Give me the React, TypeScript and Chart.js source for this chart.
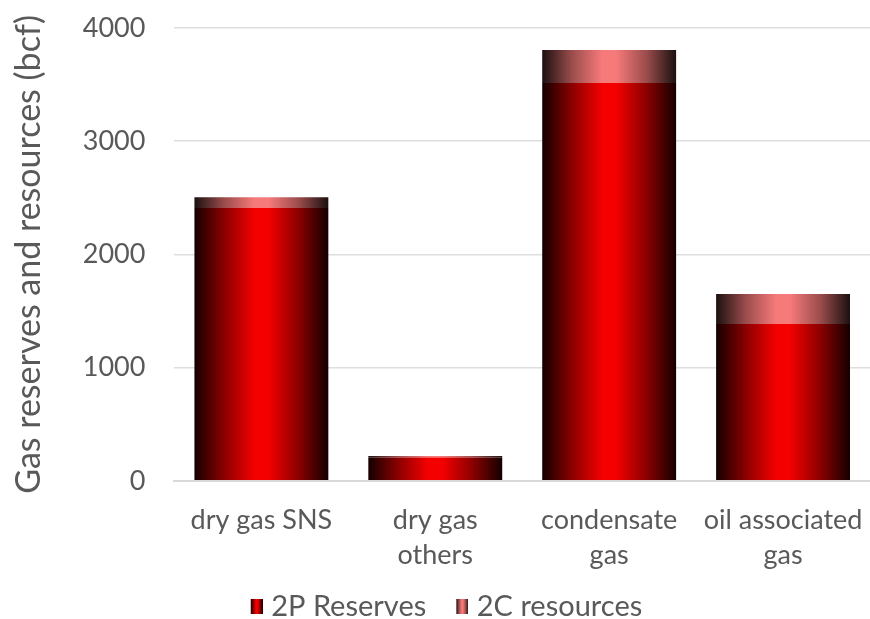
import React, { useEffect, useRef } from "react";
import { Chart, registerables } from "chart.js";

Chart.register(...registerables);

const categories: string[][] = [
  ["dry gas SNS"],
  ["dry gas", "others"],
  ["condensate", "gas"],
  ["oil associated", "gas"],
];
const reserves2P: number[] = [2410, 205, 3515, 1385];
const resources2C: number[] = [95, 15, 290, 265];
const seriesNames: string[] = ["2P Reserves", "2C resources"];
const yTickValues: number[] = [0, 1000, 2000, 3000, 4000];

const FONT = "Lato, 'Open Sans', sans-serif";
const TEXT = "#595959";
const CAT_PCT = 0.77;
const LEG_BOX = 17;

const STOPS_2P: [number, string][] = [
  [0, "#140000"],
  [0.22, "#8a0000"],
  [0.45, "#f50000"],
  [0.55, "#f50000"],
  [0.78, "#8a0000"],
  [1, "#140000"],
];
const STOPS_2C: [number, string][] = [
  [0, "#1c1010"],
  [0.22, "#9a4c4c"],
  [0.45, "#f77a7a"],
  [0.55, "#f77a7a"],
  [0.78, "#9a4c4c"],
  [1, "#1c1010"],
];

function makeGradientFill(stops: [number, string][], fallback: string) {
  return (ctx: any) => {
    const chart = ctx.chart;
    const xs = chart.scales && chart.scales.x;
    if (!xs || ctx.type !== "data" || !chart.ctx) return fallback;
    const center = xs.getPixelForValue(ctx.dataIndex);
    const w = (xs.width / categories.length) * CAT_PCT;
    if (!isFinite(center) || !isFinite(w) || w <= 0) return fallback;
    const g = chart.ctx.createLinearGradient(center - w / 2, 0, center + w / 2, 0);
    stops.forEach(([o, c]) => g.addColorStop(o, c));
    return g;
  };
}

// swatch canvas: wider than the visible 12x15 box, box drawn at its right side
function makeSwatch(stops: [number, string][]) {
  const c = document.createElement("canvas");
  const W = LEG_BOX + 12;
  c.width = W;
  c.height = 15;
  const x = c.getContext("2d")!;
  const g = x.createLinearGradient(W - 12, 0, W, 0);
  stops.forEach(([o, col]) => g.addColorStop(o, col));
  x.fillStyle = g;
  x.fillRect(W - 12, 0, 12, 15);
  return c;
}

export default function App() {
  const ref = useRef<HTMLCanvasElement | null>(null);

  useEffect(() => {
    document.body.style.margin = "0";
    const canvas = ref.current;
    if (!canvas) return;
    const swatches = [makeSwatch(STOPS_2P), makeSwatch(STOPS_2C)];
    const chart = new Chart(canvas, {
      type: "bar",
      data: {
        labels: categories,
        datasets: [
          {
            label: seriesNames[0],
            data: reserves2P,
            backgroundColor: makeGradientFill(STOPS_2P, "#ff0000"),
            borderWidth: 0,
            categoryPercentage: CAT_PCT,
            barPercentage: 1,
          },
          {
            label: seriesNames[1],
            data: resources2C,
            backgroundColor: makeGradientFill(STOPS_2C, "#f77a7a"),
            borderWidth: 0,
            categoryPercentage: CAT_PCT,
            barPercentage: 1,
          },
        ],
      },
      options: {
        animation: false,
        responsive: false,
        layout: { padding: { top: 28, right: -3, left: 9, bottom: -12 } },
        plugins: {
          tooltip: { enabled: false },
          legend: {
            position: "bottom",
            labels: {
              usePointStyle: true,
              boxWidth: LEG_BOX,
              boxHeight: 15,
              padding: 19,
              color: TEXT,
              font: { family: FONT, size: 29 },
              generateLabels: (ch: any) =>
                ch.data.datasets.map((ds: any, i: number) => ({
                  text: ds.label,
                  pointStyle: swatches[i],
                  fillStyle: "transparent",
                  strokeStyle: "transparent",
                  lineWidth: 0,
                  hidden: false,
                  datasetIndex: i,
                  fontColor: TEXT,
                })),
            },
          },
        },
        scales: {
          x: {
            stacked: true,
            afterFit: (s: any) => {
              s.paddingLeft = 0;
              s.paddingRight = 0;
            },
            grid: {
              display: true,
              drawOnChartArea: false,
              drawTicks: true,
              tickLength: 22,
              tickColor: "rgba(0,0,0,0)",
            },
            border: { display: true, color: "#d9d9d9", width: 2 },
            ticks: {
              color: TEXT,
              font: { family: FONT, size: 27, lineHeight: 1.3 },
              padding: 0,
              maxRotation: 0,
              autoSkip: false,
            },
          },
          y: {
            stacked: true,
            min: 0,
            max: 4000,
            afterBuildTicks: (axis: any) => {
              axis.ticks = yTickValues.map((v) => ({ value: v }));
            },
            grid: {
              color: "#dedede",
              lineWidth: 1.5,
              drawTicks: true,
              tickLength: 29,
              tickColor: "rgba(0,0,0,0)",
            },
            border: { display: false },
            ticks: {
              color: TEXT,
              font: { family: FONT, size: 27 },
              padding: 0,
              callback: (v: any) => String(v),
            },
            title: {
              display: true,
              text: "Gas reserves and resources (bcf)",
              color: TEXT,
              font: { family: FONT, size: 34 },
              padding: { top: 0, bottom: 33 },
            },
          },
        },
      },
    });
    return () => chart.destroy();
  }, []);

  return (
    <div style={{ width: 870, height: 619 }}>
      <canvas ref={ref} width={870} height={619} style={{ display: "block" }} />
    </div>
  );
}
